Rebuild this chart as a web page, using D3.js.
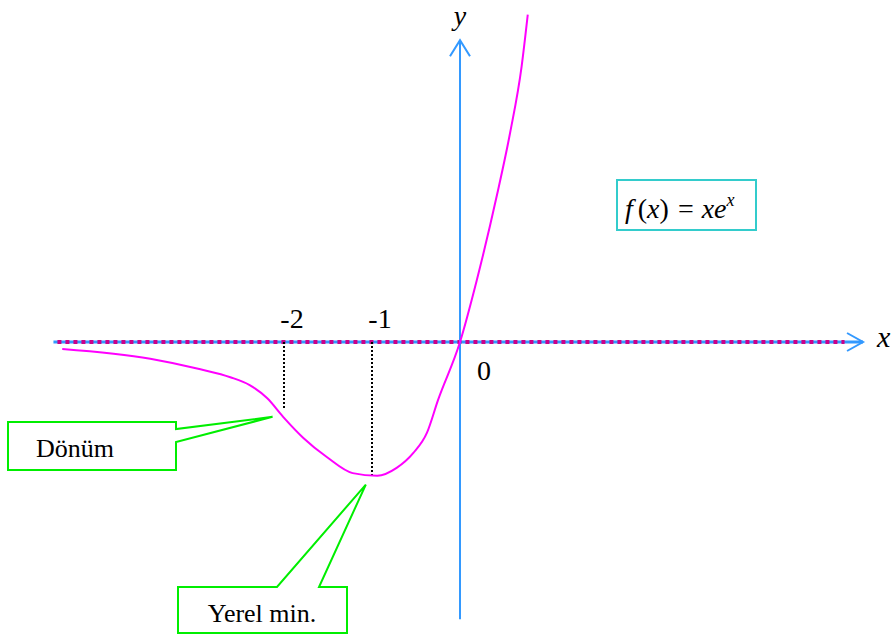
<!DOCTYPE html>
<html>
<head>
<meta charset="utf-8">
<script src="https://cdn.jsdelivr.net/npm/d3@7"></script>
<style>
  html, body { margin: 0; padding: 0; background: #fff; }
  svg { display: block; }
  svg text { font-family: "Liberation Serif", "Times New Roman", "DejaVu Serif", serif; }
</style>
</head>
<body>
<svg id="chart" width="893" height="635"></svg>
<script>
// Curve of f(x) = x e^x as drawn (axis units)
const curveX = [-4.52, -3.52, -2.95, -2.61, -2.39, -2.19, -2.01, -1.78, -1.51, -1.22, -0.94, -0.72, -0.53, -0.375, -0.25, 0, 0.19, 0.42, 0.57, 0.70, 0.77];
const curveY = [-0.08, -0.19, -0.31, -0.40, -0.49, -0.64, -0.85, -1.09, -1.31, -1.49, -1.52, -1.43, -1.26, -1.03, -0.66, 0, 0.70, 1.67, 2.38, 3.13, 3.72];

const tickValues = [-2, -1];
const tickLabels = ['-2', '-1'];
const originLabel = '0';

// Guide lines: x position and how far down they reach
const guideX = [-2, -1];
const guideY = [-0.77, -1.52];

const xExtent = [-4.62, 4.58];
const yExtent = [-3.15, 3.43];

(function draw() {
  const svg = d3.select('#chart');

  const x = d3.scaleLinear().domain([-2, 0]).range([284, 460]);
  const y = d3.scaleLinear().domain([0, 1]).range([342, 254]);

  const AXIS = '#3399ff';
  const CURVE = '#ff00ff';
  const GREEN = '#00ee00';

  // ── Axes ────────────────────────────────────────────────────────────────
  svg.append('line')
    .attr('x1', x(xExtent[0])).attr('x2', x(xExtent[1]))
    .attr('y1', y(0)).attr('y2', y(0))
    .attr('stroke', AXIS).attr('stroke-width', 3);
  svg.append('line')
    .attr('x1', x(xExtent[0]) + 4).attr('x2', x(4.37))
    .attr('y1', y(0)).attr('y2', y(0))
    .attr('stroke', '#cc0088').attr('stroke-width', 4)
    .attr('stroke-dasharray', '4,4');
  svg.append('path')
    .attr('d', `M${x(xExtent[1]) - 16},${y(0) - 9}L${x(xExtent[1])},${y(0)}L${x(xExtent[1]) - 16},${y(0) + 9}`)
    .attr('fill', 'none').attr('stroke', AXIS).attr('stroke-width', 2);

  svg.append('line')
    .attr('x1', x(0)).attr('x2', x(0))
    .attr('y1', y(yExtent[0])).attr('y2', y(yExtent[1]))
    .attr('stroke', AXIS).attr('stroke-width', 2);
  svg.append('path')
    .attr('d', `M${x(0) - 10},${y(yExtent[1]) + 16}L${x(0)},${y(yExtent[1])}L${x(0) + 10},${y(yExtent[1]) + 16}`)
    .attr('fill', 'none').attr('stroke', AXIS).attr('stroke-width', 2);

  svg.append('text').attr('x', x(0)).attr('y', 25)
    .attr('text-anchor', 'middle').attr('font-size', 28).attr('font-style', 'italic')
    .text('y');
  svg.append('text').attr('x', x(xExtent[1]) + 14).attr('y', 347)
    .attr('font-size', 30).attr('font-style', 'italic')
    .text('x');

  // ── Guides ──────────────────────────────────────────────────────────────
  svg.selectAll('line.guide').data(guideX).join('line')
    .attr('class', 'guide')
    .attr('x1', d => x(d)).attr('x2', d => x(d))
    .attr('y1', y(0)).attr('y2', (d, i) => y(guideY[i]))
    .attr('stroke', '#000').attr('stroke-width', 2)
    .attr('stroke-dasharray', '2,2');

  // tick labels
  svg.selectAll('text.tick').data(tickValues).join('text')
    .attr('class', 'tick')
    .attr('x', d => x(d) + 8).attr('y', 328)
    .attr('text-anchor', 'middle').attr('font-size', 28)
    .text((d, i) => tickLabels[i]);
  svg.append('text').attr('x', x(0) + 24).attr('y', 380)
    .attr('text-anchor', 'middle').attr('font-size', 28)
    .text(originLabel);

  // ── Curve ───────────────────────────────────────────────────────────────
  const pts = curveX.map((v, i) => [v, curveY[i]]);
  svg.append('path')
    .datum(pts)
    .attr('d', d3.line().x(d => x(d[0])).y(d => y(d[1])).curve(d3.curveMonotoneX))
    .attr('fill', 'none').attr('stroke', CURVE).attr('stroke-width', 2);

  // ── Formula box ─────────────────────────────────────────────────────────
  svg.append('rect')
    .attr('x', 617).attr('y', 180).attr('width', 139).attr('height', 50)
    .attr('fill', '#fff').attr('stroke', '#33cccc').attr('stroke-width', 2);
  const f = svg.append('text').attr('x', 625).attr('y', 218).attr('font-size', 28);
  f.append('tspan').attr('font-style', 'italic').text('f');
  f.append('tspan').attr('dx', 5).text('(');
  f.append('tspan').attr('font-style', 'italic').text('x');
  f.append('tspan').text(')');
  f.append('tspan').attr('dx', 9).text('=');
  f.append('tspan').attr('dx', 8).attr('font-style', 'italic').text('xe');
  f.append('tspan').attr('font-style', 'italic').attr('font-size', 18).attr('dy', -12).text('x');

  // ── Callouts ────────────────────────────────────────────────────────────
  const tipA = [x(-2.13), y(-0.85)];
  svg.append('path')
    .attr('d', `M8,422H176V429L${tipA[0]},${tipA[1]}L176,442V470H8Z`)
    .attr('fill', '#fff').attr('stroke', GREEN).attr('stroke-width', 2);
  svg.append('text').attr('x', 36).attr('y', 457).attr('font-size', 26).text('Dönüm');

  const tipB = [x(-1.07), y(-1.62)];
  svg.append('path')
    .attr('d', `M178,587H277L${tipB[0]},${tipB[1]}L319,587H347V633H178Z`)
    .attr('fill', '#fff').attr('stroke', GREEN).attr('stroke-width', 2);
  svg.append('text').attr('x', 262).attr('y', 622).attr('text-anchor', 'middle')
    .attr('font-size', 26).text('Yerel min.');
})();
</script>
</body>
</html>
